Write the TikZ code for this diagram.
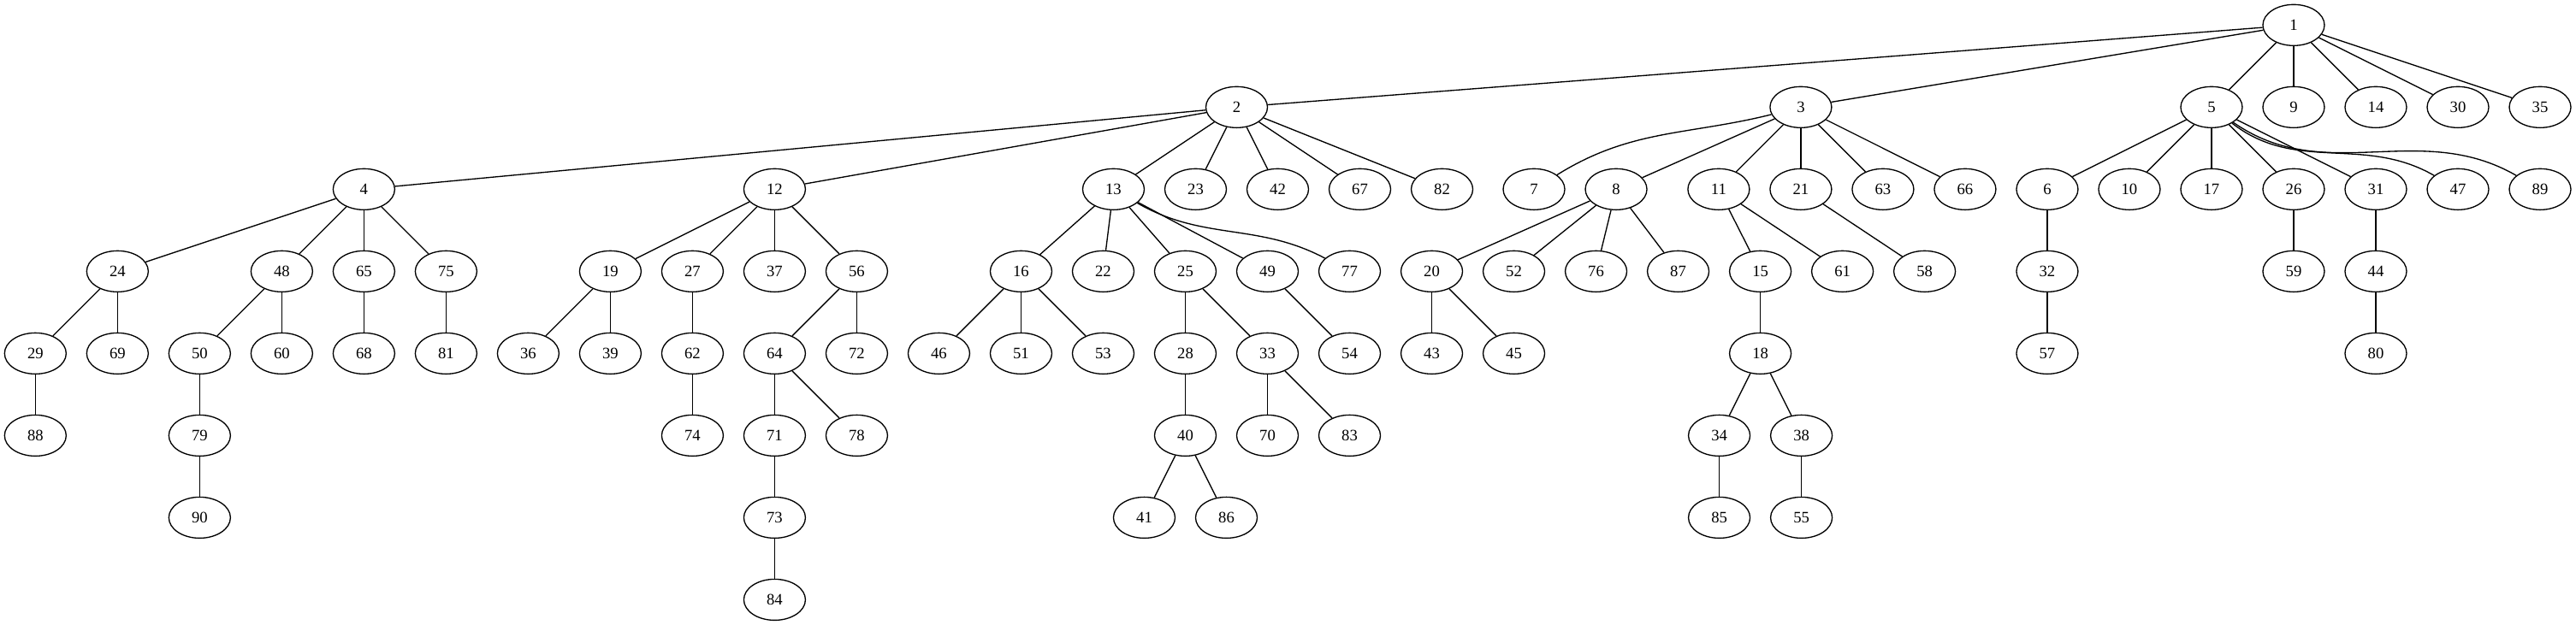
\documentclass[tikz,border=0pt]{standalone}
\usepackage{fontspec}
\setmainfont{Liberation Serif}
\usetikzlibrary{shapes.geometric}
\tikzset{
  tnode/.style={ellipse,draw,line width=1pt,minimum width=54pt,minimum height=36pt,inner sep=0pt,font=\fontsize{14}{16}\selectfont},
  tlink/.style={line width=1pt}
}
\begin{document}
\begin{tikzpicture}[x=1pt,y=1pt]
      \useasboundingbox (0,22) rectangle (2258,-526);
      % rank 0 and 1
      \node[tnode] (n1) at (2010.5,0) {1};
      \node[tnode] (n2) at (1084,-72) {2}; \node[tnode] (n3) at (1578.5,-72) {3}; \node[tnode] (n5) at (1938.5,-72) {5};
      \node[tnode] (n9) at (2010.5,-72) {9}; \node[tnode] (n14) at (2082.5,-72) {14}; \node[tnode] (n30) at (2154.5,-72) {30}; \node[tnode] (n35) at (2226.5,-72) {35};
      % rank 2
      \node[tnode] (n4) at (319,-144) {4}; \node[tnode] (n12) at (679,-144) {12}; \node[tnode] (n13) at (976,-144) {13}; \node[tnode] (n23) at (1048,-144) {23};
      \node[tnode] (n42) at (1120,-144) {42}; \node[tnode] (n67) at (1192,-144) {67}; \node[tnode] (n82) at (1264,-144) {82}; \node[tnode] (n7) at (1344.6,-144) {7};
      \node[tnode] (n8) at (1416.6,-144) {8}; \node[tnode] (n11) at (1506.5,-144) {11}; \node[tnode] (n21) at (1578.5,-144) {21}; \node[tnode] (n63) at (1650.5,-144) {63};
      \node[tnode] (n66) at (1722.5,-144) {66}; \node[tnode] (n6) at (1794.5,-144) {6}; \node[tnode] (n10) at (1866.5,-144) {10}; \node[tnode] (n17) at (1938.5,-144) {17};
      \node[tnode] (n26) at (2010.5,-144) {26}; \node[tnode] (n31) at (2082.5,-144) {31}; \node[tnode] (n47) at (2154.5,-144) {47}; \node[tnode] (n89) at (2226.5,-144) {89};
      % rank 3
      \node[tnode] (n24) at (103,-216) {24}; \node[tnode] (n48) at (247,-216) {48}; \node[tnode] (n65) at (319,-216) {65}; \node[tnode] (n75) at (391,-216) {75};
      \node[tnode] (n19) at (535,-216) {19}; \node[tnode] (n27) at (607,-216) {27}; \node[tnode] (n37) at (679,-216) {37}; \node[tnode] (n56) at (751,-216) {56};
      \node[tnode] (n16) at (895,-216) {16}; \node[tnode] (n22) at (967,-216) {22}; \node[tnode] (n25) at (1039,-216) {25}; \node[tnode] (n49) at (1111,-216) {49};
      \node[tnode] (n77) at (1183,-216) {77}; \node[tnode] (n20) at (1255,-216) {20}; \node[tnode] (n52) at (1327,-216) {52}; \node[tnode] (n76) at (1399,-216) {76};
      \node[tnode] (n87) at (1471,-216) {87}; \node[tnode] (n15) at (1543,-216) {15}; \node[tnode] (n61) at (1615,-216) {61}; \node[tnode] (n58) at (1687,-216) {58};
      \node[tnode] (n32) at (1794.5,-216) {32}; \node[tnode] (n59) at (2010.5,-216) {59}; \node[tnode] (n44) at (2082.5,-216) {44};
      % rank 4
      \node[tnode] (n29) at (31,-288) {29}; \node[tnode] (n69) at (103,-288) {69}; \node[tnode] (n50) at (175,-288) {50}; \node[tnode] (n60) at (247,-288) {60};
      \node[tnode] (n68) at (319,-288) {68}; \node[tnode] (n81) at (391,-288) {81}; \node[tnode] (n36) at (463,-288) {36}; \node[tnode] (n39) at (535,-288) {39};
      \node[tnode] (n62) at (607,-288) {62}; \node[tnode] (n64) at (679,-288) {64}; \node[tnode] (n72) at (751,-288) {72}; \node[tnode] (n46) at (823,-288) {46};
      \node[tnode] (n51) at (895,-288) {51}; \node[tnode] (n53) at (967,-288) {53}; \node[tnode] (n28) at (1039,-288) {28}; \node[tnode] (n33) at (1111,-288) {33};
      \node[tnode] (n54) at (1183,-288) {54}; \node[tnode] (n43) at (1255,-288) {43}; \node[tnode] (n45) at (1327,-288) {45}; \node[tnode] (n18) at (1543,-288) {18};
      \node[tnode] (n57) at (1794.5,-288) {57}; \node[tnode] (n80) at (2082.5,-288) {80};
      % rank 5 to 7
      \node[tnode] (n88) at (31,-360) {88}; \node[tnode] (n79) at (175,-360) {79}; \node[tnode] (n74) at (607,-360) {74}; \node[tnode] (n71) at (679,-360) {71};
      \node[tnode] (n78) at (751,-360) {78}; \node[tnode] (n40) at (1039,-360) {40}; \node[tnode] (n70) at (1111,-360) {70}; \node[tnode] (n83) at (1183,-360) {83};
      \node[tnode] (n34) at (1507,-360) {34}; \node[tnode] (n38) at (1579,-360) {38};
      \node[tnode] (n90) at (175,-432) {90}; \node[tnode] (n73) at (679,-432) {73}; \node[tnode] (n41) at (1003,-432) {41}; \node[tnode] (n86) at (1075,-432) {86};
      \node[tnode] (n85) at (1507,-432) {85}; \node[tnode] (n55) at (1579,-432) {55};
      \node[tnode] (n84) at (679,-504) {84};
      % edges
      \draw[tlink] (n1) -- (n2); \draw[tlink] (n1) -- (n3); \draw[tlink] (n1) -- (n5); \draw[tlink] (n1) -- (n9); \draw[tlink] (n1) -- (n14); \draw[tlink] (n1) -- (n30); \draw[tlink] (n1) -- (n35);
      \draw[tlink] (n2) -- (n4); \draw[tlink] (n2) -- (n12); \draw[tlink] (n2) -- (n13); \draw[tlink] (n2) -- (n23); \draw[tlink] (n2) -- (n42); \draw[tlink] (n2) -- (n67); \draw[tlink] (n2) -- (n82);
      \draw[tlink] (n3) to[out=194,in=32] (n7); \draw[tlink] (n3) -- (n8); \draw[tlink] (n3) -- (n11); \draw[tlink] (n3) -- (n21); \draw[tlink] (n3) -- (n63); \draw[tlink] (n3) -- (n66);
      \draw[tlink] (n5) -- (n6); \draw[tlink] (n5) -- (n10); \draw[tlink] (n5) -- (n17); \draw[tlink] (n5) -- (n26); \draw[tlink] (n5) -- (n31);
      \draw[tlink] (n5) to[out=-38,in=150] (n47); \draw[tlink] (n5) to[out=-35,in=150] (n89);
      \draw[tlink] (n4) -- (n24); \draw[tlink] (n4) -- (n48); \draw[tlink] (n4) -- (n65); \draw[tlink] (n4) -- (n75);
      \draw[tlink] (n12) -- (n19); \draw[tlink] (n12) -- (n27); \draw[tlink] (n12) -- (n37); \draw[tlink] (n12) -- (n56);
      \draw[tlink] (n13) -- (n16); \draw[tlink] (n13) -- (n22); \draw[tlink] (n13) -- (n25); \draw[tlink] (n13) -- (n49); \draw[tlink] (n13) to[out=-30,in=152] (n77);
      \draw[tlink] (n8) -- (n20); \draw[tlink] (n8) -- (n52); \draw[tlink] (n8) -- (n76); \draw[tlink] (n8) -- (n87);
      \draw[tlink] (n11) -- (n15); \draw[tlink] (n11) -- (n61); \draw[tlink] (n21) -- (n58); \draw[tlink] (n6) -- (n32); \draw[tlink] (n26) -- (n59); \draw[tlink] (n31) -- (n44);
      \draw[tlink] (n24) -- (n29); \draw[tlink] (n24) -- (n69); \draw[tlink] (n48) -- (n50); \draw[tlink] (n48) -- (n60); \draw[tlink] (n65) -- (n68); \draw[tlink] (n75) -- (n81);
      \draw[tlink] (n19) -- (n36); \draw[tlink] (n19) -- (n39); \draw[tlink] (n27) -- (n62); \draw[tlink] (n56) -- (n64); \draw[tlink] (n56) -- (n72);
      \draw[tlink] (n16) -- (n46); \draw[tlink] (n16) -- (n51); \draw[tlink] (n16) -- (n53); \draw[tlink] (n25) -- (n28); \draw[tlink] (n25) -- (n33); \draw[tlink] (n49) -- (n54);
      \draw[tlink] (n20) -- (n43); \draw[tlink] (n20) -- (n45); \draw[tlink] (n15) -- (n18); \draw[tlink] (n32) -- (n57); \draw[tlink] (n44) -- (n80);
      \draw[tlink] (n29) -- (n88); \draw[tlink] (n50) -- (n79); \draw[tlink] (n62) -- (n74); \draw[tlink] (n64) -- (n71); \draw[tlink] (n64) -- (n78);
      \draw[tlink] (n28) -- (n40); \draw[tlink] (n33) -- (n70); \draw[tlink] (n33) -- (n83); \draw[tlink] (n18) -- (n34); \draw[tlink] (n18) -- (n38);
      \draw[tlink] (n79) -- (n90); \draw[tlink] (n71) -- (n73); \draw[tlink] (n40) -- (n41); \draw[tlink] (n40) -- (n86); \draw[tlink] (n34) -- (n85); \draw[tlink] (n38) -- (n55);
      \draw[tlink] (n73) -- (n84);
    \end{tikzpicture}
\end{document}
